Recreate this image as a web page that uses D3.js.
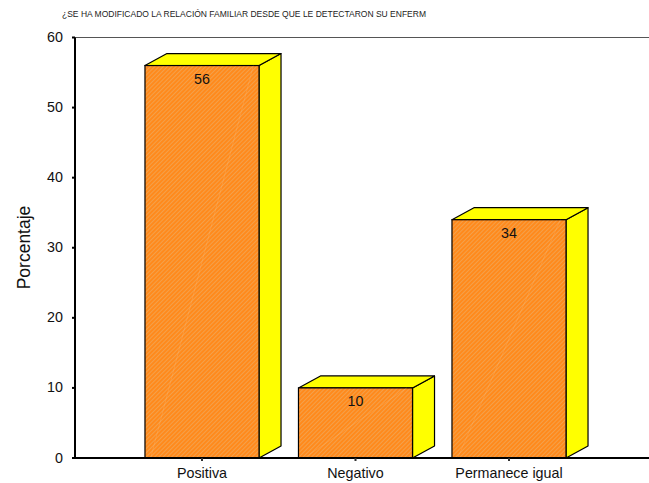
<!DOCTYPE html>
<html>
<head>
<meta charset="utf-8">
<script src="https://cdn.jsdelivr.net/npm/d3@7"></script>
<style>
  html, body { margin: 0; padding: 0; background: #fff; }
  svg { display: block; font-family: Arial, "Liberation Sans", sans-serif; }
</style>
</head>
<body>
<svg id="chart" width="649" height="483"></svg>
<script>
// Respuestas y porcentajes
const categories = ["Positiva", "Negativo", "Permanece igual"];
const values = [56, 10, 34];
const yTicks = [0, 10, 20, 30, 40, 50, 60];
const title = "¿SE HA MODIFICADO LA RELACIÓN FAMILIAR DESDE QUE LE DETECTARON SU ENFERM";
const yLabel = "Porcentaje";

const svg = d3.select("#chart");

const x0 = 75, x1 = 649, yTop = 37.5, yBot = 458;
const depthX = 22, depthY = -12;
const fs = 14.3;

const y = d3.scaleLinear().domain([0, 60]).range([yBot, yTop]);
const x = d3.scaleBand().domain(categories)
  .range([125.25, 585.75]).paddingInner(0.257).paddingOuter(0.1285);

// hatched orange fill for the front faces
const defs = svg.append("defs");
const pat = defs.append("pattern").attr("id", "hatch")
  .attr("patternUnits", "userSpaceOnUse").attr("width", 3).attr("height", 3)
  .attr("patternTransform", "rotate(45)");
pat.append("rect").attr("width", 3).attr("height", 3).attr("fill", "#ff8a1c");
pat.append("rect").attr("width", 1).attr("height", 3).attr("fill", "#f4a04a");

// title
svg.append("text").attr("x", 62).attr("y", 17)
  .attr("font-size", 8.5).attr("fill", "#222").text(title);

// top frame line
svg.append("line").attr("x1", x0).attr("x2", x1).attr("y1", yTop).attr("y2", yTop)
  .attr("stroke", "#555").attr("stroke-width", 1.2);

// bars
const g = svg.append("g");
categories.forEach((c, i) => {
  const v = values[i];
  const bx = x(c), bw = x.bandwidth(), by = y(v), bb = y(0);
  const bar = g.append("g");
  // side face
  bar.append("path")
    .attr("d", `M${bx + bw},${by} L${bx + bw + depthX},${by + depthY} L${bx + bw + depthX},${bb + depthY} L${bx + bw},${bb} Z`)
    .attr("fill", "#ffff00").attr("stroke", "#000").attr("stroke-width", 1.2).attr("stroke-linejoin", "round");
  // top face
  bar.append("path")
    .attr("d", `M${bx},${by} L${bx + depthX},${by + depthY} L${bx + bw + depthX},${by + depthY} L${bx + bw},${by} Z`)
    .attr("fill", "#ffff00").attr("stroke", "#000").attr("stroke-width", 1.2).attr("stroke-linejoin", "round");
  // front face
  bar.append("rect").attr("x", bx).attr("y", by).attr("width", bw).attr("height", bb - by)
    .attr("fill", "url(#hatch)").attr("stroke", "#000").attr("stroke-width", 1.2);
  // faint diagonal sheen
  bar.append("line").attr("x1", bx + bw * 0.05).attr("y1", bb)
    .attr("x2", bx + bw * 0.95).attr("y2", by)
    .attr("stroke", "#ffd9a8").attr("stroke-width", 0.5).attr("opacity", 0.35);
  // value label
  bar.append("text").attr("x", bx + bw / 2).attr("y", by + 18)
    .attr("text-anchor", "middle").attr("font-size", fs).attr("fill", "#111").text(v);
});

// y axis
svg.append("line").attr("x1", x0).attr("x2", x0).attr("y1", yTop).attr("y2", yBot)
  .attr("stroke", "#000").attr("stroke-width", 2);
yTicks.forEach(t => {
  svg.append("rect").attr("x", x0 - 3).attr("y", y(t) - 1).attr("width", 3).attr("height", 2).attr("fill", "#000");
  svg.append("text").attr("x", 63).attr("y", y(t) + 4.5)
    .attr("text-anchor", "end").attr("font-size", fs).attr("fill", "#111").text(t);
});

// x axis
svg.append("line").attr("x1", x0).attr("x2", x1).attr("y1", yBot).attr("y2", yBot)
  .attr("stroke", "#000").attr("stroke-width", 2);
categories.forEach(c => {
  const cx = x(c) + x.bandwidth() / 2;
  svg.append("rect").attr("x", cx - 1).attr("y", yBot).attr("width", 2).attr("height", 3).attr("fill", "#333");
  svg.append("text").attr("x", cx).attr("y", 478)
    .attr("text-anchor", "middle").attr("font-size", fs).attr("fill", "#111").text(c);
});

// y axis title
svg.append("text").attr("transform", "translate(29.5,247.5) rotate(-90)")
  .attr("text-anchor", "middle").attr("font-size", 17.5).attr("fill", "#111").text(yLabel);
</script>
</body>
</html>
